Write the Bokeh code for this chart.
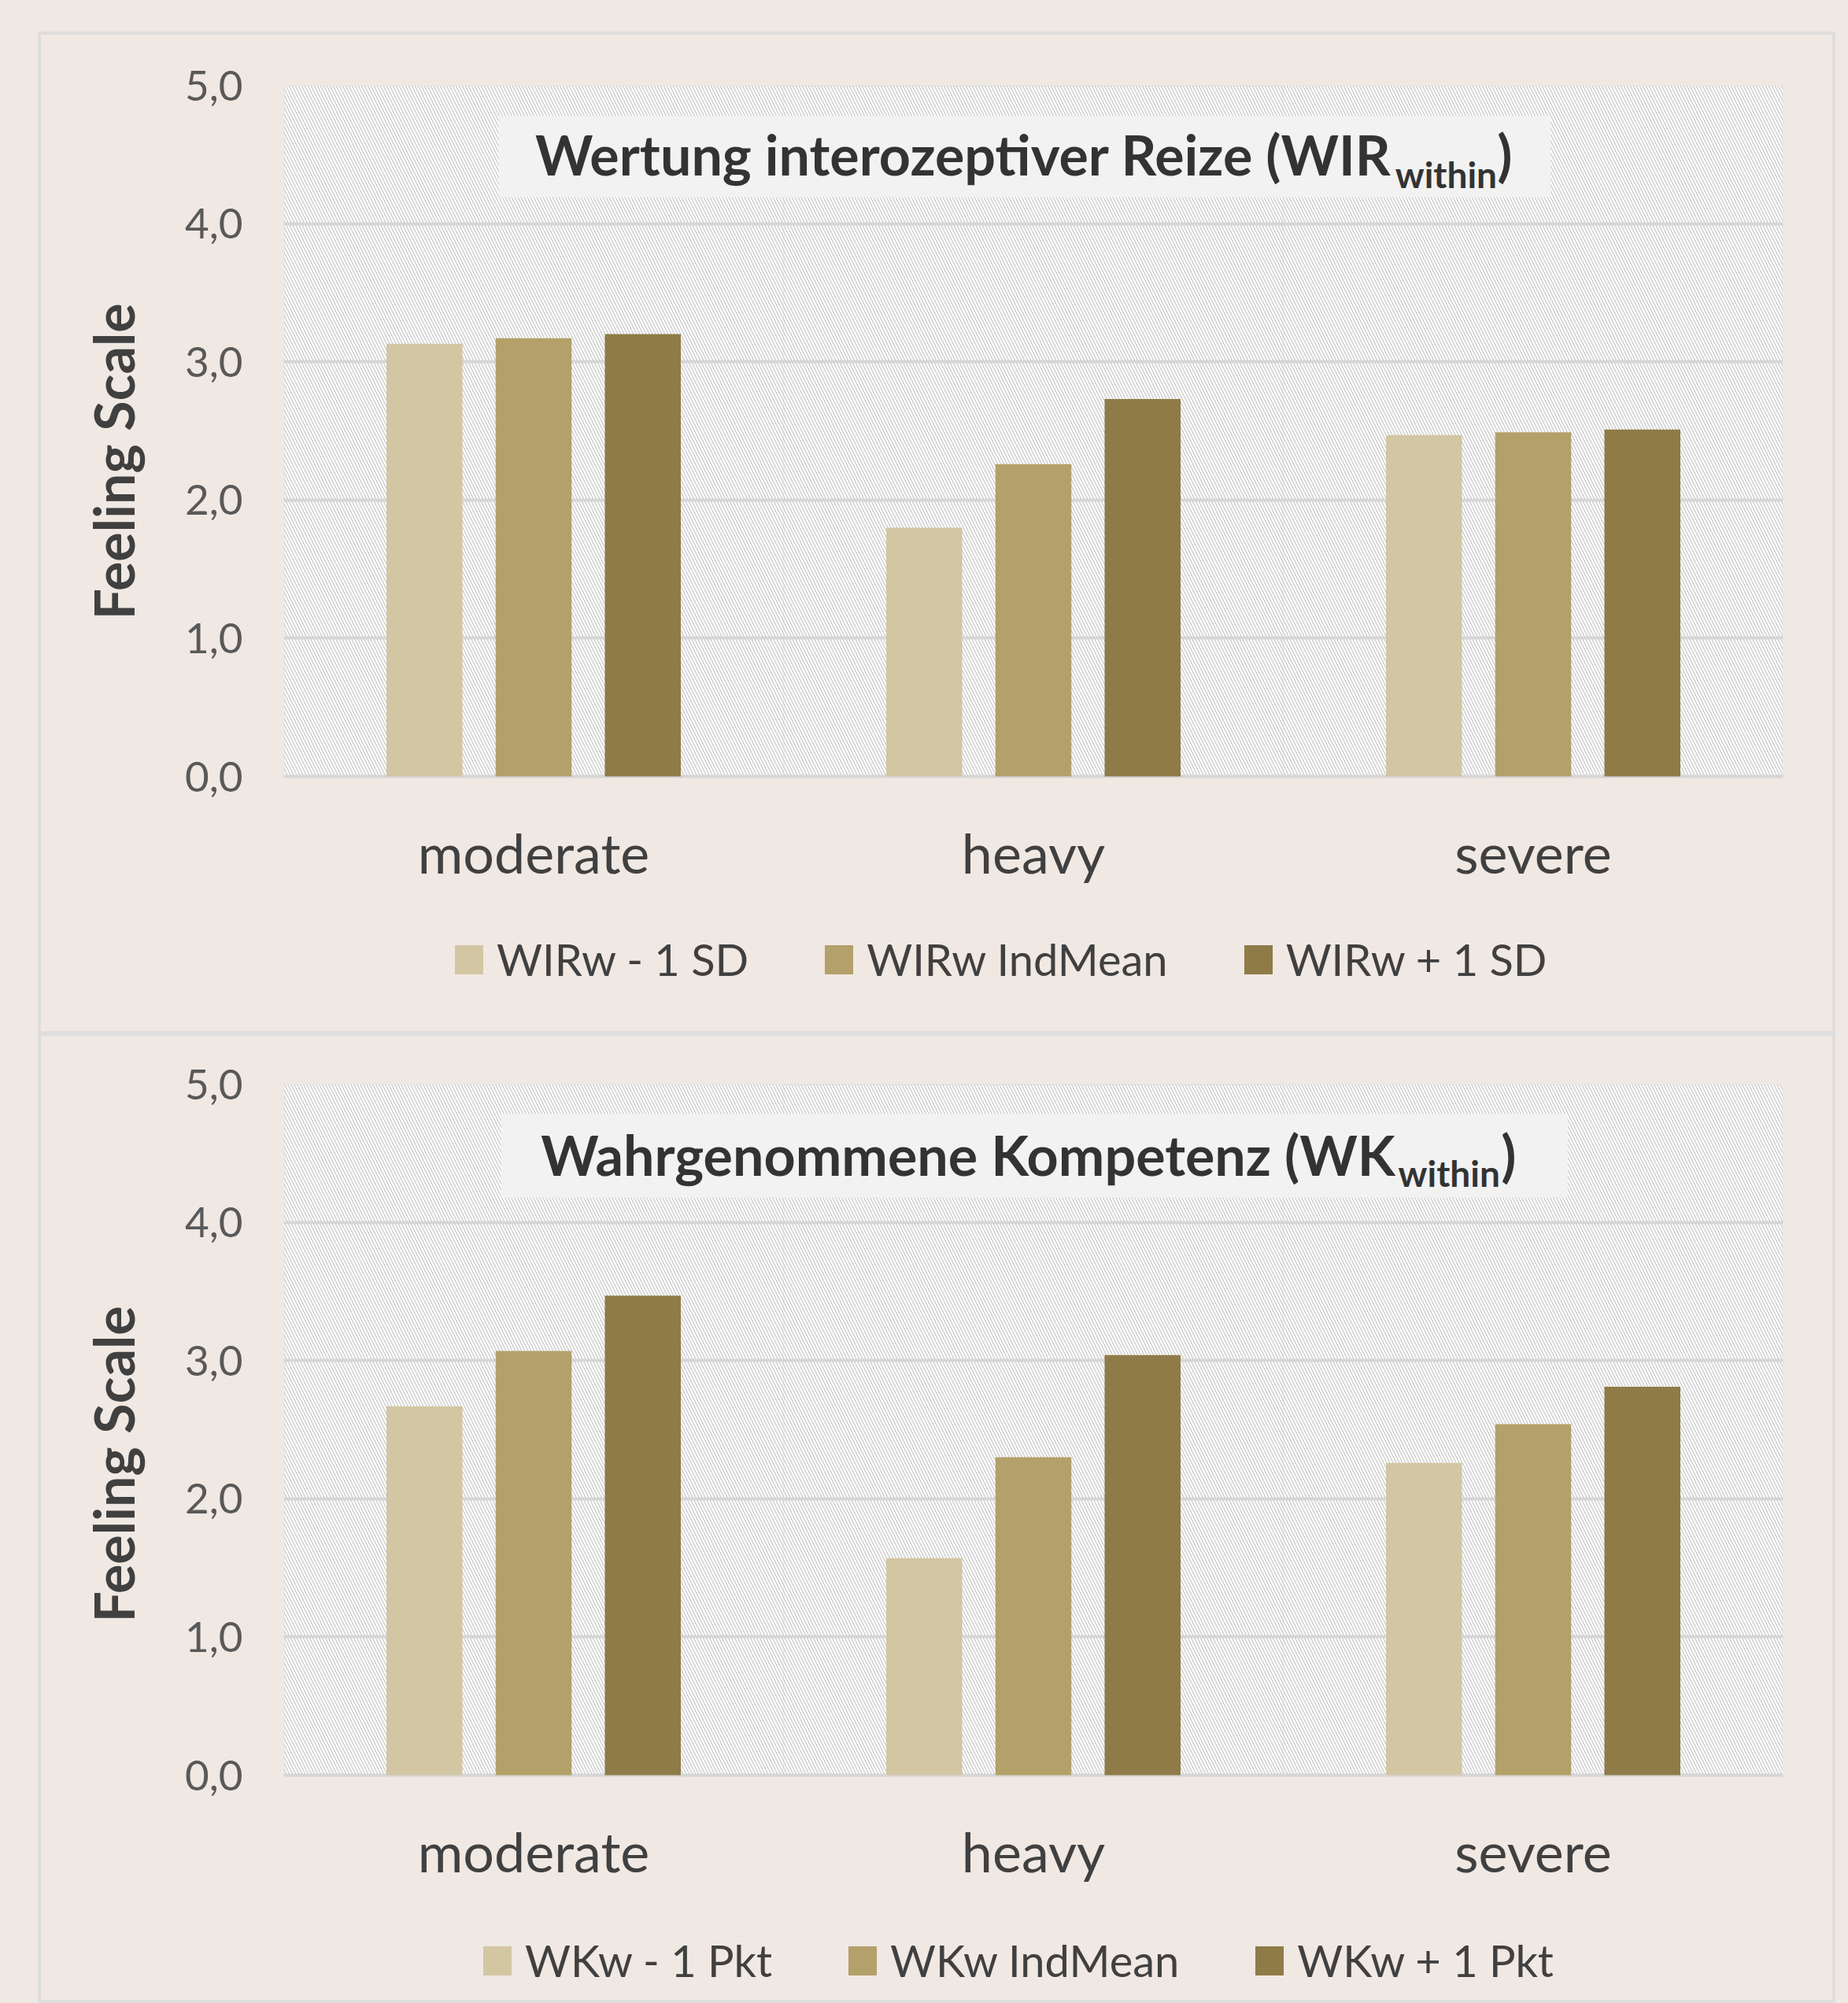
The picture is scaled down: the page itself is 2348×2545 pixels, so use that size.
from bokeh.plotting import figure
from bokeh.models import (FactorRange, Range1d, FixedTicker, BoxAnnotation, Label, Title,
                          Legend, LegendItem, ColumnDataSource, GlobalInlineStyleSheet)
from bokeh.transform import dodge
from bokeh.layouts import column
from bokeh.embed import file_html
from bokeh.resources import INLINE

# ---------------- data ----------------
categories = ["moderate", "heavy", "severe"]

wir_minus = [3.13, 1.80, 2.47]
wir_mean = [3.17, 2.26, 2.49]
wir_plus = [3.20, 2.73, 2.51]
wir_labels = ["WIRw - 1 SD", "WIRw IndMean", "WIRw + 1 SD"]

wk_minus = [2.67, 1.57, 2.26]
wk_mean = [3.07, 2.30, 2.54]
wk_plus = [3.47, 3.04, 2.81]
wk_labels = ["WKw - 1 Pkt", "WKw IndMean", "WKw + 1 Pkt"]

y_ticks = [0, 1, 2, 3, 4, 5]
y_tick_labels = ["0,0", "1,0", "2,0", "3,0", "4,0", "5,0"]
y_title = "Feeling Scale"

# ---------------- style ----------------
BG = "#F0E8E2"
GRID = "#D6D6D6"
COLORS = ["#D3C6A3", "#B4A06A", "#8E7B47"]
FONT = "Lato"
W = 2276
PLOT_PX = 878.0          # pixel height of the 0..5 plot area
Y_MAX = 5


def make_chart(title_main, title_sub, values, labels, height, top_border,
               box, main_pos, sub_pos, paren_x, legend_loc, ytitle_offset):
    frame_h = height - top_border
    y_start = Y_MAX - frame_h * Y_MAX / PLOT_PX
    ncat = len(categories)
    p = figure(width=W, height=height, output_backend="svg", toolbar_location=None,
               x_range=FactorRange(factors=categories, range_padding=0, factor_padding=0),
               y_range=Range1d(y_start, Y_MAX),
               min_border_left=308, min_border_right=63,
               min_border_top=top_border, min_border_bottom=0)
    p.border_fill_color = BG
    p.background_fill_color = BG
    p.outline_line_color = None

    # hatched plot area
    p.add_layout(BoxAnnotation(left=0, right=ncat, bottom=0, top=Y_MAX, fill_color="white",
                               fill_alpha=1, line_color=None, hatch_pattern="\\",
                               hatch_color="#C9C9C9", hatch_scale=8, hatch_weight=1.3,
                               level="image"))

    # grid
    p.xgrid.grid_line_color = None
    p.ygrid.ticker = FixedTicker(ticks=y_ticks)
    p.ygrid.grid_line_color = GRID
    p.ygrid.grid_line_width = 4
    # category separators and plot-area border
    p.add_layout(BoxAnnotation(left=1, right=ncat - 1, bottom=0, top=Y_MAX, fill_alpha=0,
                               line_color=GRID, line_width=3, level="underlay"))
    p.add_layout(BoxAnnotation(left=0, right=ncat, bottom=0, top=Y_MAX, fill_alpha=0,
                               line_color=GRID, line_width=4, level="underlay"))

    src = ColumnDataSource(dict(cat=categories, s0=values[0], s1=values[1], s2=values[2]))
    offsets = [-0.2185, 0.0, 0.2185]
    renderers = []
    for i, key in enumerate(["s0", "s1", "s2"]):
        r = p.vbar(x=dodge("cat", offsets[i], range=p.x_range), top=key, bottom=0,
                   width=0.152, source=src, fill_color=COLORS[i], line_color=None)
        renderers.append(r)

    # y axis
    p.yaxis.ticker = FixedTicker(ticks=y_ticks)
    p.yaxis.major_label_overrides = {t: l for t, l in zip(y_ticks, y_tick_labels)}
    p.yaxis.axis_line_color = None
    p.yaxis.major_tick_line_color = None
    p.yaxis.minor_tick_line_color = None
    p.yaxis.major_label_text_font = FONT
    p.yaxis.major_label_text_font_size = "53px"
    p.yaxis.major_label_text_color = "#595959"
    p.yaxis.major_label_standoff = 46

    p.add_layout(Title(text=y_title, align="left", offset=ytitle_offset, standoff=92,
                       text_font=FONT, text_font_size="70px", text_font_style="bold",
                       text_color="#404040"), "left")

    # x axis fixed at the bottom of the plot area
    p.xaxis.fixed_location = 0
    p.xaxis.axis_line_color = None
    p.xaxis.major_tick_line_color = None
    p.xaxis.major_label_text_font = FONT
    p.xaxis.major_label_text_font_size = "70px"
    p.xaxis.major_label_text_color = "#404040"
    p.xaxis.major_label_standoff = 48

    # title box
    p.add_layout(BoxAnnotation(left=box[0], right=box[1], bottom=box[2], top=box[3],
                               fill_color="#F2F2F2", fill_alpha=1, line_color=None))
    p.add_layout(Label(x=main_pos[0], y=main_pos[1], text=title_main, text_align="right",
                       text_baseline="middle", text_font=FONT, text_font_size="70px",
                       text_font_style="bold", text_color="#333333"))
    p.add_layout(Label(x=sub_pos[0], y=sub_pos[1], text=title_sub, text_align="left",
                       text_baseline="middle", text_font=FONT, text_font_size="46px",
                       text_font_style="bold", text_color="#333333"))
    p.add_layout(Label(x=paren_x, y=main_pos[1], text=")", text_align="left",
                       text_baseline="middle", text_font=FONT, text_font_size="70px",
                       text_font_style="bold", text_color="#333333"))

    legend = Legend(items=[LegendItem(label=lab, renderers=[r]) for lab, r in zip(labels, renderers)],
                    orientation="horizontal", location=legend_loc,
                    border_line_color=None, background_fill_alpha=0, padding=0, margin=0,
                    spacing=92, label_standoff=13, glyph_width=45, glyph_height=46,
                    label_text_font=FONT, label_text_font_size="56px",
                    label_text_color="#404040")
    p.add_layout(legend)
    p.styles = {"outline": "4px solid #DEDEDE"}
    return p


p1 = make_chart("Wertung interozeptiver Reize (WIR", "within", [wir_minus, wir_mean, wir_plus],
                wir_labels, 1266, 64,
                (0.430, 2.535, 4.191, 4.778), (2.217, 4.499), (2.224, 4.355), 2.428,
                (213, 58), 523)
p1.margin = (44, 12, 0, 52)

p2 = make_chart("Wahrgenommene Kompetenz (WK", "within", [wk_minus, wk_mean, wk_plus],
                wk_labels, 1225, 61,
                (0.435, 2.569, 4.180, 4.784), (2.224, 4.491), (2.230, 4.355), 2.436,
                (249, 17), 480)
p2.margin = (6, 12, 0, 52)

layout = column(p1, p2, styles={"background-color": BG},
                stylesheets=[GlobalInlineStyleSheet(css="body { background-color: #F0E8E2; }")])

open("out.html", "w").write(file_html(layout, INLINE))
